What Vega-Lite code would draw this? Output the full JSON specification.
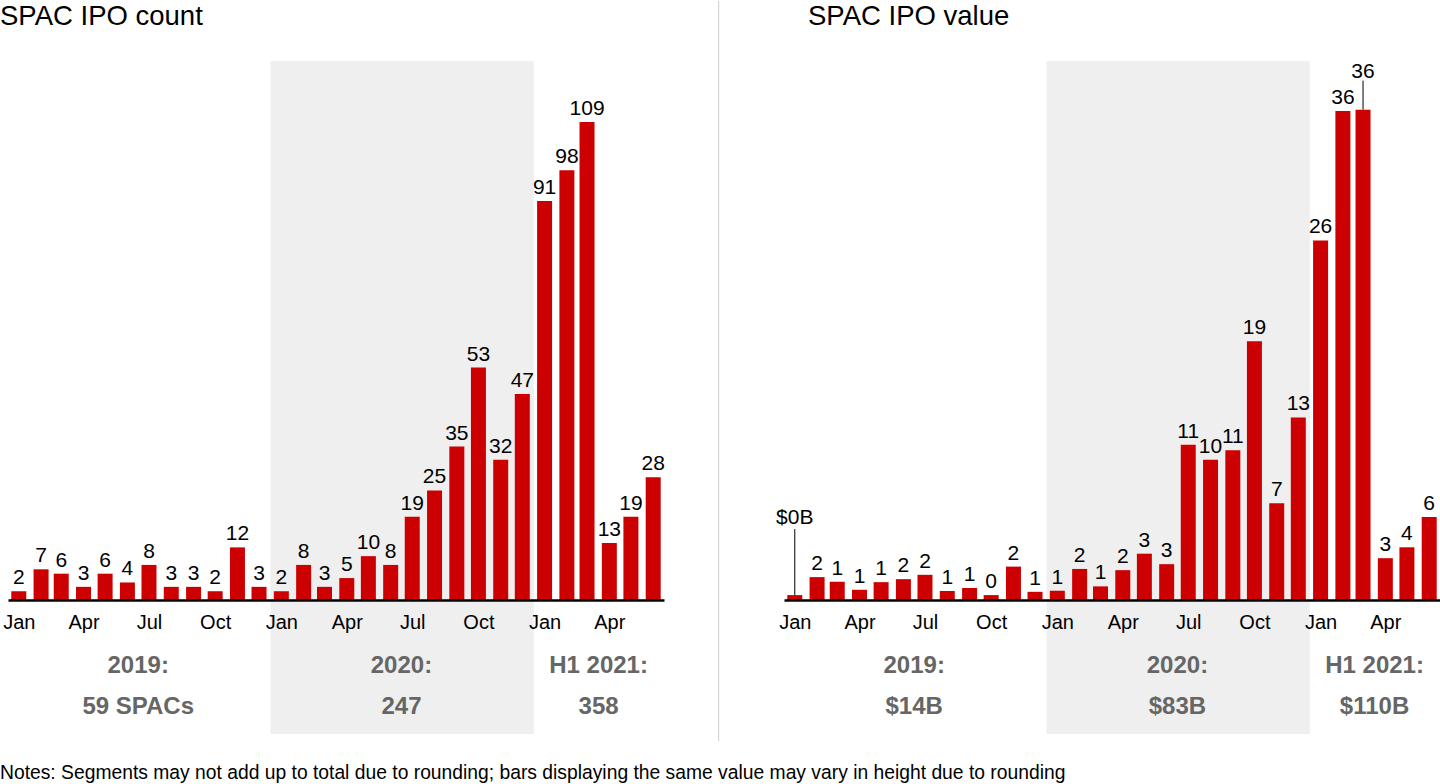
{
  "$schema": "https://vega.github.io/schema/vega-lite/v6.json",
  "padding": 0,
  "background": "white",
  "bounds": "flush",
  "spacing": 120,
  "config": {
    "font": "Liberation Sans",
    "view": {"stroke": null},
    "axisX": {
      "format": "%b", "title": null, "ticks": false, "grid": false, "orient": "bottom",
      "domainColor": "#000000", "domainWidth": 2.5, "labelFontSize": 20, "labelColor": "#000000",
      "labelPadding": 12, "labelAngle": 0, "labelOverlap": false, "labelFlush": false
    }
  },
  "datasets": {
    "count": [
      {"month": "2019-01-16", "count": 2}, {"month": "2019-02-16", "count": 7}, {"month": "2019-03-16", "count": 6},
      {"month": "2019-04-16", "count": 3}, {"month": "2019-05-16", "count": 6}, {"month": "2019-06-16", "count": 4},
      {"month": "2019-07-16", "count": 8}, {"month": "2019-08-16", "count": 3}, {"month": "2019-09-16", "count": 3},
      {"month": "2019-10-16", "count": 2}, {"month": "2019-11-16", "count": 12}, {"month": "2019-12-16", "count": 3},
      {"month": "2020-01-16", "count": 2}, {"month": "2020-02-16", "count": 8}, {"month": "2020-03-16", "count": 3},
      {"month": "2020-04-16", "count": 5}, {"month": "2020-05-16", "count": 10}, {"month": "2020-06-16", "count": 8},
      {"month": "2020-07-16", "count": 19}, {"month": "2020-08-16", "count": 25}, {"month": "2020-09-16", "count": 35},
      {"month": "2020-10-16", "count": 53}, {"month": "2020-11-16", "count": 32}, {"month": "2020-12-16", "count": 47},
      {"month": "2021-01-16", "count": 91}, {"month": "2021-02-16", "count": 98}, {"month": "2021-03-16", "count": 109},
      {"month": "2021-04-16", "count": 13}, {"month": "2021-05-16", "count": 19}, {"month": "2021-06-16", "count": 28}
    ],
    "value": [
      {"month": "2019-01-16", "value": 0.36, "label": "$0B"}, {"month": "2019-02-16", "value": 1.68, "label": "2"},
      {"month": "2019-03-16", "value": 1.34, "label": "1"}, {"month": "2019-04-16", "value": 0.75, "label": "1"},
      {"month": "2019-05-16", "value": 1.31, "label": "1"}, {"month": "2019-06-16", "value": 1.53, "label": "2"},
      {"month": "2019-07-16", "value": 1.85, "label": "2"}, {"month": "2019-08-16", "value": 0.66, "label": "1"},
      {"month": "2019-09-16", "value": 0.88, "label": "1"}, {"month": "2019-10-16", "value": 0.36, "label": "0"},
      {"month": "2019-11-16", "value": 2.45, "label": "2"}, {"month": "2019-12-16", "value": 0.6, "label": "1"},
      {"month": "2020-01-16", "value": 0.68, "label": "1"}, {"month": "2020-02-16", "value": 2.28, "label": "2"},
      {"month": "2020-03-16", "value": 1.0, "label": "1"}, {"month": "2020-04-16", "value": 2.19, "label": "2"},
      {"month": "2020-05-16", "value": 3.4, "label": "3"}, {"month": "2020-06-16", "value": 2.63, "label": "3"},
      {"month": "2020-07-16", "value": 11.4, "label": "11"}, {"month": "2020-08-16", "value": 10.3, "label": "10"},
      {"month": "2020-09-16", "value": 11.0, "label": "11"}, {"month": "2020-10-16", "value": 19.0, "label": "19"},
      {"month": "2020-11-16", "value": 7.1, "label": "7"}, {"month": "2020-12-16", "value": 13.4, "label": "13"},
      {"month": "2021-01-16", "value": 26.4, "label": "26"}, {"month": "2021-02-16", "value": 35.9, "label": "36"},
      {"month": "2021-03-16", "value": 36.0, "label": "36"}, {"month": "2021-04-16", "value": 3.07, "label": "3"},
      {"month": "2021-05-16", "value": 3.87, "label": "4"}, {"month": "2021-06-16", "value": 6.1, "label": "6"}
    ],
    "shade": [{"start": "2020-01-01", "end": "2021-01-01"}],
    "divider": [{"at": "2021-09-15"}],
    "leftTexts": [{"at": "2019-01-01", "text": "SPAC IPO count"}],
    "rightTexts": [{"at": "2019-01-01", "text": "SPAC IPO value"}],
    "notes": [{"at": "2019-01-01", "text": "Notes: Segments may not add up to total due to rounding; bars displaying the same value may vary in height due to rounding"}],
    "countTotals": [
      {"mid": "2019-07-01", "label": "2019:\n59 SPACs"},
      {"mid": "2020-07-01", "label": "2020:\n247"},
      {"mid": "2021-04-01", "label": "H1 2021:\n358"}
    ],
    "valueTotals": [
      {"mid": "2019-07-01", "label": "2019:\n$14B"},
      {"mid": "2020-07-01", "label": "2020:\n$83B"},
      {"mid": "2021-04-01", "label": "H1 2021:\n$110B"}
    ]
  },
  "hconcat": [
    {
      "width": 656,
      "height": 539,
      "layer": [
        {
          "data": {"name": "shade"},
          "mark": {"type": "rect", "color": "#efefef"},
          "encoding": {
            "x": {"field": "start", "type": "temporal"},
            "x2": {"field": "end"},
            "y": {"datum": 122.92, "type": "quantitative", "axis": null},
            "y2": {"datum": -30.56}
          }
        },
        {
          "data": {"name": "count"},
          "mark": {"type": "bar", "color": "#cc0000", "width": 15},
          "encoding": {
            "x": {
              "field": "month", "type": "temporal",
              "scale": {"domain": [{"year": 2019, "month": 1, "date": 1}, {"year": 2021, "month": 7, "date": 1}], "padding": 0, "nice": false},
              "axis": {
                "values": [1547596800000, 1555372800000, 1563235200000, 1571184000000, 1579132800000, 1586995200000, 1594857600000, 1602806400000, 1610755200000, 1618531200000],
                "format": "%b", "title": null, "ticks": false, "grid": false, "orient": "bottom",
                "domainColor": "#000000", "domainWidth": 2.5, "labelFontSize": 20, "labelColor": "#000000",
                "labelPadding": 12, "labelAngle": 0, "labelOverlap": false, "labelFlush": false, "zindex": 1
              }
            },
            "y": {"field": "count", "type": "quantitative", "scale": {"domain": [0, 122.92], "nice": false, "zero": false}, "axis": null}
          }
        },
        {
          "data": {"name": "count"},
          "mark": {"type": "text", "fontSize": 21, "color": "#000000", "baseline": "alphabetic", "dy": -7},
          "encoding": {
            "x": {"field": "month", "type": "temporal"},
            "y": {"field": "count", "type": "quantitative", "axis": null},
            "text": {"field": "count", "type": "quantitative"}
          }
        },
        {
          "data": {"name": "countTotals"},
          "mark": {"type": "text", "fontSize": 24, "fontWeight": "bold", "color": "#666666", "baseline": "middle", "lineBreak": "\n", "lineHeight": 41},
          "encoding": {
            "x": {"field": "mid", "type": "temporal"},
            "y": {"datum": -15.05, "type": "quantitative", "axis": null},
            "text": {"field": "label"}
          }
        },
        {
          "data": {"name": "divider"},
          "mark": {"type": "rule", "color": "#cccccc", "strokeWidth": 1},
          "encoding": {
            "x": {"field": "at", "type": "temporal"},
            "y": {"datum": 136.6, "type": "quantitative", "axis": null},
            "y2": {"datum": -32.15}
          }
        },
        {
          "data": {"name": "leftTexts"},
          "mark": {"type": "text", "fontSize": 27.5, "color": "#000000", "align": "left", "baseline": "alphabetic", "dx": -8},
          "encoding": {
            "x": {"field": "at", "type": "temporal"},
            "y": {"datum": 131.13, "type": "quantitative", "axis": null},
            "text": {"field": "text"}
          }
        },
        {
          "data": {"name": "notes"},
          "mark": {"type": "text", "fontSize": 19.3, "color": "#000000", "align": "left", "baseline": "middle", "dx": -8},
          "encoding": {
            "x": {"field": "at", "type": "temporal"},
            "y": {"datum": -39.45, "type": "quantitative", "axis": null},
            "text": {"field": "text"}
          }
        }
      ]
    },
    {
      "width": 656,
      "height": 539,
      "layer": [
        {
          "data": {"name": "shade"},
          "mark": {"type": "rect", "color": "#efefef"},
          "encoding": {
            "x": {"field": "start", "type": "temporal"},
            "x2": {"field": "end"},
            "y": {"datum": 39.57, "type": "quantitative", "axis": null},
            "y2": {"datum": -9.84}
          }
        },
        {
          "data": {"name": "value"},
          "mark": {"type": "bar", "color": "#cc0000", "width": 15},
          "encoding": {
            "x": {
              "field": "month", "type": "temporal",
              "scale": {"domain": [{"year": 2019, "month": 1, "date": 1}, {"year": 2021, "month": 7, "date": 1}], "padding": 0, "nice": false},
              "axis": {
                "values": [1547596800000, 1555372800000, 1563235200000, 1571184000000, 1579132800000, 1586995200000, 1594857600000, 1602806400000, 1610755200000, 1618531200000],
                "format": "%b", "title": null, "ticks": false, "grid": false, "orient": "bottom",
                "domainColor": "#000000", "domainWidth": 2.5, "labelFontSize": 20, "labelColor": "#000000",
                "labelPadding": 12, "labelAngle": 0, "labelOverlap": false, "labelFlush": false, "zindex": 1
              }
            },
            "y": {"field": "value", "type": "quantitative", "scale": {"domain": [0, 39.57], "nice": false, "zero": false}, "axis": null}
          }
        },
        {
          "data": {"name": "value"},
          "transform": [{"filter": "datum.label != '$0B' && !(utcyear(datum.month) == 2021 && utcmonth(datum.month) == 2)"}],
          "mark": {"type": "text", "fontSize": 21, "color": "#000000", "baseline": "alphabetic", "dy": -7},
          "encoding": {
            "x": {"field": "month", "type": "temporal"},
            "y": {"field": "value", "type": "quantitative", "axis": null},
            "text": {"field": "label"}
          }
        },
        {
          "data": {"name": "value"},
          "transform": [{"filter": "datum.label == '$0B'"}],
          "mark": {"type": "text", "fontSize": 21, "color": "#000000", "baseline": "alphabetic", "dy": -71},
          "encoding": {
            "x": {"field": "month", "type": "temporal"},
            "y": {"field": "value", "type": "quantitative", "axis": null},
            "text": {"field": "label"}
          }
        },
        {
          "data": {"name": "value"},
          "transform": [{"filter": "datum.label == '$0B'"}],
          "mark": {"type": "rule", "color": "#000000", "strokeWidth": 1, "y2Offset": -66},
          "encoding": {
            "x": {"field": "month", "type": "temporal"},
            "y": {"field": "value", "type": "quantitative", "axis": null},
            "y2": {"field": "value"}
          }
        },
        {
          "data": {"name": "value"},
          "transform": [{"filter": "utcyear(datum.month) == 2021 && utcmonth(datum.month) == 2"}],
          "mark": {"type": "text", "fontSize": 21, "color": "#000000", "baseline": "alphabetic", "dy": -32},
          "encoding": {
            "x": {"field": "month", "type": "temporal"},
            "y": {"field": "value", "type": "quantitative", "axis": null},
            "text": {"field": "label"}
          }
        },
        {
          "data": {"name": "value"},
          "transform": [{"filter": "utcyear(datum.month) == 2021 && utcmonth(datum.month) == 2"}],
          "mark": {"type": "rule", "color": "#000000", "strokeWidth": 1, "y2Offset": -29},
          "encoding": {
            "x": {"field": "month", "type": "temporal"},
            "y": {"field": "value", "type": "quantitative", "axis": null},
            "y2": {"field": "value"}
          }
        },
        {
          "data": {"name": "valueTotals"},
          "mark": {"type": "text", "fontSize": 24, "fontWeight": "bold", "color": "#666666", "baseline": "middle", "lineBreak": "\n", "lineHeight": 41},
          "encoding": {
            "x": {"field": "mid", "type": "temporal"},
            "y": {"datum": -4.85, "type": "quantitative", "axis": null},
            "text": {"field": "label"}
          }
        },
        {
          "data": {"name": "rightTexts"},
          "mark": {"type": "text", "fontSize": 27.5, "color": "#000000", "align": "left", "baseline": "alphabetic", "dx": 24},
          "encoding": {
            "x": {"field": "at", "type": "temporal"},
            "y": {"datum": 42.22, "type": "quantitative", "axis": null},
            "text": {"field": "text"}
          }
        }
      ]
    }
  ]
}
